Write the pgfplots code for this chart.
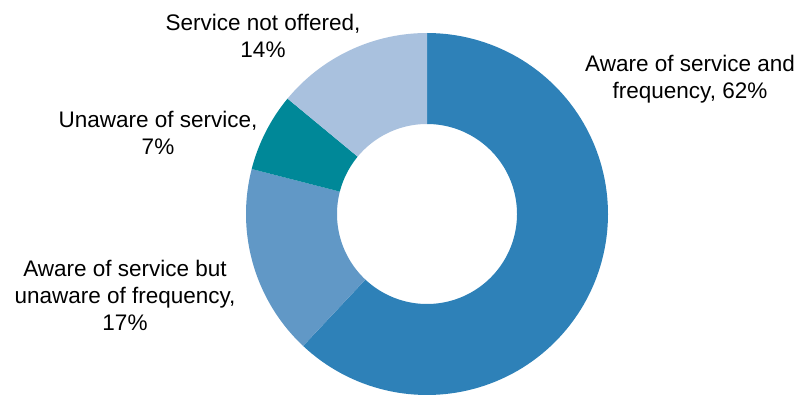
\documentclass[border=0pt]{standalone}
\usepackage{fontspec}
\setmainfont{Liberation Sans}
\usepackage{pgfplots}
\pgfplotsset{compat=1.18}
\usepgfplotslibrary{fillbetween}

\definecolor{cAware}{HTML}{2E81B8}
\definecolor{cBut}{HTML}{6198C6}
\definecolor{cUnaware}{HTML}{008898}
\definecolor{cNot}{HTML}{A9C1DE}

% shares in percent, clockwise from 12 o'clock
\def\pA{62}
\def\pB{17}
\def\pC{7}
\def\pD{14}
\pgfmathsetmacro\aA{90}
\pgfmathsetmacro\aB{\aA-3.6*\pA}
\pgfmathsetmacro\aC{\aB-3.6*\pB}
\pgfmathsetmacro\aD{\aC-3.6*\pC}
\pgfmathsetmacro\aE{\aD-3.6*\pD}

\def\rout{181}
\def\rin{90}

\begin{document}
\begin{tikzpicture}[lbl/.style={font=\fontsize{22.5}{27}\selectfont, align=center, text=black, inner sep=0pt}]
\begin{axis}[
    scale only axis,
    width=799pt, height=396pt,
    xmin=-427, xmax=372,
    ymin=-182, ymax=214,
    hide axis, clip=false,
    samples=120,
]
% aware of service and frequency
\addplot[name path=o1, draw=none, domain=\aB:\aA, data cs=polar] (x,\rout);
\addplot[name path=i1, draw=none, domain=\aB:\aA, data cs=polar] (x,\rin);
\addplot[cAware] fill between[of=o1 and i1];
% aware of service but unaware of frequency
\addplot[name path=o2, draw=none, domain=\aC:\aB, data cs=polar] (x,\rout);
\addplot[name path=i2, draw=none, domain=\aC:\aB, data cs=polar] (x,\rin);
\addplot[cBut] fill between[of=o2 and i2];
% unaware of service
\addplot[name path=o3, draw=none, domain=\aD:\aC, data cs=polar] (x,\rout);
\addplot[name path=i3, draw=none, domain=\aD:\aC, data cs=polar] (x,\rin);
\addplot[cUnaware] fill between[of=o3 and i3];
% service not offered
\addplot[name path=o4, draw=none, domain=\aE:\aD, data cs=polar] (x,\rout);
\addplot[name path=i4, draw=none, domain=\aE:\aD, data cs=polar] (x,\rin);
\addplot[cNot] fill between[of=o4 and i4];

\node[lbl] at (axis cs:263,135) {Aware of service and\\frequency, 62\%};
\node[lbl] at (axis cs:-164,178) {Service not offered,\\14\%};
\node[lbl] at (axis cs:-269,81) {Unaware of service,\\7\%};
\node[lbl] at (axis cs:-302,-81) {Aware of service but\\unaware of frequency,\\17\%};

\path (axis cs:-427,-182) rectangle (axis cs:372,214);
\end{axis}
\end{tikzpicture}
\end{document}
